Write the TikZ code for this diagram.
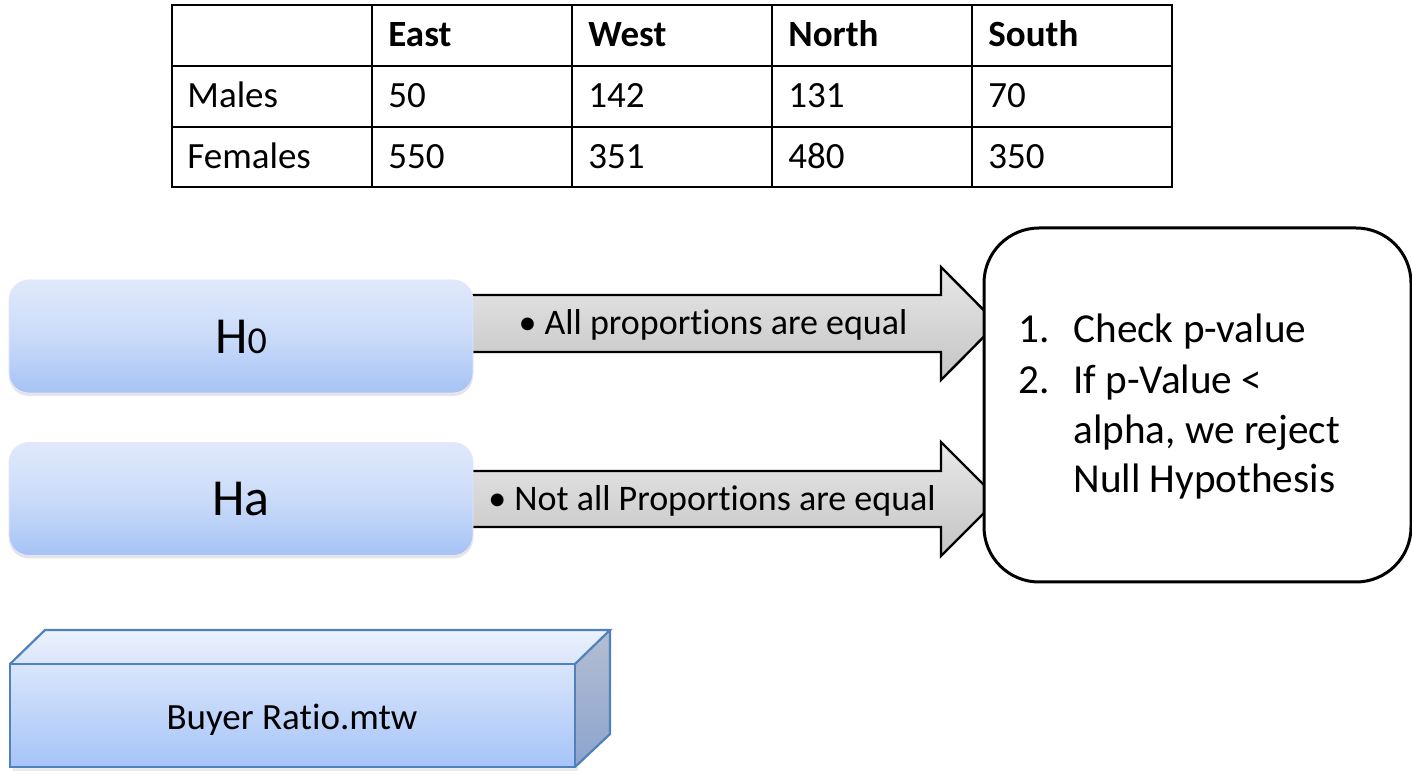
\documentclass[tikz,border=0pt]{standalone}
\usepackage{fontspec}
\setmainfont{Carlito}[Ligatures={NoCommon}]
\usetikzlibrary{shadows,calc}
\definecolor{boxtop}{RGB}{224,233,251}
\definecolor{boxmid}{RGB}{202,219,249}
\definecolor{boxbot}{RGB}{166,195,245}
\definecolor{cubeline}{RGB}{79,129,189}
\definecolor{cubefront1}{RGB}{217,229,252}
\definecolor{cubefront2}{RGB}{166,196,247}
\definecolor{cubetop1}{RGB}{236,242,253}
\definecolor{cubetop2}{RGB}{218,229,250}
\definecolor{cuberight1}{RGB}{180,190,210}
\definecolor{cuberight2}{RGB}{140,164,206}
\definecolor{arrtop}{RGB}{232,232,232}
\definecolor{arrbot}{RGB}{196,196,196}
\tikzset{
  tabtxt/.style={anchor=base west, inner sep=0pt, font=\fontsize{18.5}{22}\selectfont},
  tabhead/.style={tabtxt, font=\fontsize{18.5}{22}\selectfont\bfseries},
  tabline/.style={line width=1.1pt, black},
  hbox/.style={rectangle, rounded corners=10pt, minimum width=232pt, minimum height=56.5pt,
     inner sep=0pt, top color=boxtop, bottom color=boxbot, middle color=boxmid, draw=white!90!blue, line width=0.4pt,
     drop shadow={opacity=0.2, shadow xshift=0pt, shadow yshift=-1.5pt},
     font=\fontsize{26}{30}\selectfont},
  blockarrow/.style={draw=black, line width=1.2pt, top color=arrtop, bottom color=arrbot, line join=miter},
  arrtxt/.style={anchor=base, inner sep=0pt, font=\fontsize{18}{22}\selectfont},
  stepsbox/.style={rectangle, draw=black, line width=1.5pt, fill=white, rounded corners=27.5pt,
     minimum width=213.5pt, minimum height=177pt, inner sep=0pt},
  steptxt/.style={anchor=base west, inner sep=0pt, font=\fontsize{20.6}{25}\selectfont},
  cubeedge/.style={draw=cubeline, line width=1.1pt, line join=miter},
}
\begin{document}
\begin{tikzpicture}[x=0.5pt,y=-0.5pt]
\useasboundingbox[fill=white] (0,0) rectangle (1412,779);

% ---------- table ----------
\draw[tabline] (172,5) rectangle (1172,187);
\draw[tabline] (172,66) -- (1172,66);
\draw[tabline] (172,127) -- (1172,127);
\foreach \cx in {372,572,772,972} \draw[tabline] (\cx,5) -- (\cx,187);

\node[tabhead] (hE) at (388,47) {East};
\node[tabhead] (hW) at (588,47) {West};
\node[tabhead] (hN) at (788,47) {North};
\node[tabhead] (hS) at (988,47) {South};
\node[tabtxt] (rM) at (187,108) {Males};
\node[tabtxt] (m1) at (388,108) {50};
\node[tabtxt] (m2) at (588,108) {142};
\node[tabtxt] (m3) at (788,108) {131};
\node[tabtxt] (m4) at (988,108) {70};
\node[tabtxt] (rF) at (187,168.5) {Females};
\node[tabtxt] (f1) at (388,168.5) {550};
\node[tabtxt] (f2) at (588,168.5) {351};
\node[tabtxt] (f3) at (788,168.5) {480};
\node[tabtxt] (f4) at (988,168.5) {350};

% ---------- block arrows ----------
\coordinate (tip0) at (997,323.5);
\coordinate (tipa) at (998,499);
\draw[blockarrow] (471,295) -- (941,295) -- (941,267) -- (tip0) -- (941,380) -- (941,352) -- (471,352) -- cycle;
\draw[blockarrow] (471,471) -- (941,471) -- (941,442) -- (tipa) -- (941,556) -- (941,527) -- (471,527) -- cycle;

% ---------- hypothesis boxes ----------
\node[hbox] (h0) at (241,336.5) {H{\fontsize{19}{22}\selectfont 0}};
\node[hbox] (ha) at (241,499) {Ha};

% ---------- steps box ----------
\node[stepsbox] (steps) at (1197.5,405) {};
\node[steptxt] (n1) at (1018,343) {1.};
\node[steptxt] (s1) at (1073,343) {Check p-value};
\node[steptxt] (n2) at (1018,394) {2.};
\node[steptxt] (s2) at (1073,394) {If p-Value <};
\node[steptxt] (s3) at (1073,443.5) {alpha, we reject};
\node[steptxt] (s4) at (1073,493) {Null Hypothesis};

% ---------- arrow labels ----------
\node[arrtxt] (l0) at (713,335) {\textbullet{} All proport\kern0pt ions are equal};
\node[arrtxt] (la) at (712,511) {\textbullet{} Not all Proport\kern0pt ions are equal};

% ---------- 3D box ----------
\fill[black, opacity=0.08] (13,767) rectangle (578,771);
\shade[top color=cubefront1, bottom color=cubefront2] (10,664) rectangle (575,767);
\shade[top color=cubetop1, bottom color=cubetop2] (10,664) -- (45,630) -- (610,630) -- (575,664) -- cycle;
\shade[top color=cuberight1, bottom color=cuberight2] (575,664) -- (610,630) -- (610,734) -- (575,767) -- cycle;
\draw[cubeedge] (10,664) rectangle (575,767);
\draw[cubeedge] (10,664) -- (45,630) -- (610,630) -- (575,664);
\draw[cubeedge] (610,630) -- (610,734) -- (575,767);
\node[anchor=base, inner sep=0pt, font=\fontsize{18.5}{22}\selectfont] (file) at (292,729) {Buyer Ratio.mtw};
\end{tikzpicture}
\end{document}
